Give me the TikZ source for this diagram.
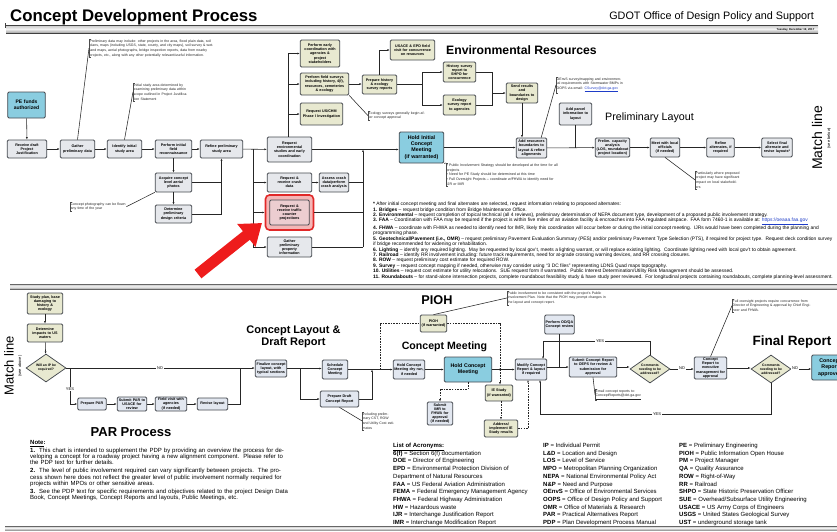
\documentclass[tikz,border=0pt]{standalone}
\usepackage{fontspec}
\setmainfont{Liberation Sans}
\usetikzlibrary{shapes.geometric,arrows.meta,calc}
\definecolor{cyanc}{RGB}{138,205,224}
\definecolor{beigec}{RGB}{232,233,208}
\definecolor{grayc}{RGB}{230,232,236}
\definecolor{bluec}{RGB}{226,231,240}
\definecolor{bordc}{RGB}{70,74,80}
\definecolor{redc}{RGB}{225,40,40}
\definecolor{pinkc}{RGB}{244,182,182}
\definecolor{pinkin}{RGB}{236,205,208}
\definecolor{arrowred}{RGB}{238,28,28}
\definecolor{linkc}{RGB}{30,60,200}
\tikzset{
  bx/.style={rectangle, rounded corners=1.3pt, draw=bordc, line width=0.75pt, align=center, inner sep=0.3pt, font=\fontsize{3.7}{4.2}\selectfont\bfseries, text=black},
  gb/.style={bx, fill=grayc},
  bb/.style={bx, fill=beigec},
  cb/.style={bx, fill=cyanc},
  lb/.style={bx, fill=bluec},
  dm/.style={diamond, aspect=1.45, draw=bordc, line width=0.75pt, fill=beigec, inner sep=0pt, align=center, font=\fontsize{3.4}{3.9}\selectfont\bfseries, minimum width=40pt, minimum height=28pt},
  nt/.style={anchor=north west, align=left, inner sep=0.5pt, font=\fontsize{3.5}{4.6}\selectfont, text=black!85},
  ar/.style={-{Latex[length=2.4pt,width=1.9pt]}, line width=0.55pt, draw=black!85},
  ln/.style={line width=0.55pt, draw=black!85},
  ds/.style={line width=0.55pt, draw=black!85, dash pattern=on 1.6pt off 1.1pt},
  dsa/.style={ds, -{Latex[length=2.4pt,width=1.9pt]}},
  lab/.style={font=\fontsize{4}{4}\selectfont, fill=white, inner sep=0.6pt},
  sect/.style={font=\fontsize{11}{12}\selectfont\bfseries, align=center},
}
\newcommand\notebrk[1]{\draw[line width=0.4pt, black!70] ([xshift=2pt]#1.north west) -- (#1.north west) -- (#1.south west) -- ([xshift=2pt]#1.south west);}
\begin{document}
\begin{tikzpicture}[x=1pt,y=-1pt]
\useasboundingbox (0,0) rectangle (837,531);
\fill[white] (0,0) rectangle (837,531);
\clip (0,0) rectangle (837,531);

% ---------- header ----------
\node[anchor=base west, font=\fontsize{16.8}{17}\selectfont\bfseries, inner sep=0] (title) at (10,21) {Concept Development Process};
\node[anchor=base east, font=\fontsize{10.8}{11}\selectfont, inner sep=0] (gdot) at (814,19) {GDOT Office of Design Policy and Support};
\shade[top color=gray!45, bottom color=gray!75, middle color=gray!10] (6,25) rectangle (818,33);
\draw[black!75, line width=0.6pt] (6,25) -- (818,25);
\draw[black!75, line width=0.9pt] (6,33) -- (818,33);
\draw[black!75, line width=0.5pt] (5,23) -- (5,28);
\node[anchor=east, font=\fontsize{2.8}{3}\selectfont\bfseries, inner sep=0.5pt] (date) at (815,29.5) {Tuesday, December 19, 2017};

% ---------- top flow ----------
\node[cb, font=\fontsize{5}{5.8}\selectfont\bfseries, text width=37pt, minimum height=26pt] (pe) at (26.5,105) {PE funds\\authorized};
\node[gb, text width=39pt, minimum height=18pt] (r1) at (27,149) {Receive draft\\Project\\Justification};
\node[gb, text width=34pt, minimum height=18pt] (r2) at (77.5,149) {Gather\\preliminary data};
\node[gb, text width=34pt, minimum height=18pt] (r3) at (124.5,149) {Identify initial\\study area};
\node[gb, text width=36pt, minimum height=18pt] (r4) at (173.5,149) {Perform initial\\field\\reconnaissance};
\node[gb, text width=42pt, minimum height=18pt] (r5) at (221.5,149) {Refine preliminary\\study area};
\node[gb, text width=36pt, minimum height=19pt] (acq) at (173.5,182.5) {Acquire concept\\level aerial\\photos};
\node[gb, text width=36pt, minimum height=18pt] (det) at (173.5,214) {Determine\\preliminary\\design criteria};
\node[gb, text width=44pt, minimum height=25pt] (req) at (289.5,149.5) {Request\\environmental\\studies and early\\coordination};
\node[gb, text width=44pt, minimum height=19pt] (crash) at (289.5,182.5) {Request \&\\receive crash\\data};
\node[gb, text width=29pt, minimum height=19pt] (acr) at (334,182.5) {Assess crash\\data/perform\\crash analysis};
\node[rectangle, rounded corners=4pt, draw=redc, line width=1.6pt, fill=pinkc, minimum width=48pt, minimum height=35pt] (trafo) at (289.5,212.5) {};
\node[gb, fill=pinkin, text width=39pt, minimum height=25pt] (traffic) at (289.5,212.5) {Request \&\\receive traffic\\counter\\projections};
\node[gb, text width=44pt, minimum height=20pt] (prop) at (289.5,247) {Gather\\preliminary\\property\\information};
\node[cb, font=\fontsize{5.3}{6.2}\selectfont\bfseries, text width=44pt, minimum height=31pt] (hold1) at (421.5,147.5) {Hold Initial\\Concept\\Meeting\\(if warranted)};
\node[gb, text width=30pt, minimum height=20pt] (addres) at (531.5,148) {Add resources\\boundaries to\\layout \& refine\\alignments};
\node[gb, text width=34pt, minimum height=19pt] (cap) at (612.5,147.5) {Prelim. capacity\\analysis\\(LOS, roundabout\\project location)};
\node[gb, text width=29pt, minimum height=19pt] (meet) at (665,147.5) {Meet with local\\officials\\(if needed)};
\node[gb, text width=27pt, minimum height=19pt] (refalt) at (720.5,147.5) {Refine\\alternates, if\\required};
\node[gb, text width=30pt, minimum height=19pt] (sel) at (777,147.5) {Select final\\alternate and\\revise layouts*};
\node[gb, text width=32pt, minimum height=22pt] (addpar) at (575.5,114) {Add parcel\\information to\\layout};

% environmental
\node[bb, text width=39pt, minimum height=27pt] (early) at (320,53.5) {Perform early\\coordination with\\agencies \&\\project\\stakeholders};
\node[bb, text width=48pt, minimum height=22pt] (field) at (324.5,84) {Perform field surveys\\including history, 4(f),\\resources, cemeteries\\\& ecology};
\node[bb, text width=42pt, minimum height=22pt] (usreq) at (321.5,114) {Request US/CHM\\Phase I Investigation};
\node[bb, text width=34pt, minimum height=19pt] (prep) at (379.5,84.5) {Prepare history\\\& ecology\\survey reports};
\node[bb, text width=44pt, minimum height=20pt] (usace) at (412.5,50) {USACE \& EPD field\\visit for concurrence\\on resources};
\node[bb, text width=32pt, minimum height=20pt] (shpo) at (459.5,72) {History survey\\report to\\SHPO for\\concurrence};
\node[bb, text width=32pt, minimum height=20pt] (eco) at (459.5,105) {Ecology\\survey report\\to agencies};
\node[bb, text width=31pt, minimum height=20pt] (send) at (522,93) {Send results\\and\\boundaries to\\design};

\node[anchor=west, font=\fontsize{12.2}{13}\selectfont\bfseries, inner sep=0] (envt) at (446,50) {Environmental Resources};
\node[anchor=west, font=\fontsize{10.7}{11}\selectfont, inner sep=0] (plt) at (605,118) {Preliminary Layout};
\node[rotate=90, font=\fontsize{14}{14}\selectfont, inner sep=0] (ml1) at (817,138) {Match line};
\node[rotate=90, font=\fontsize{4}{4}\selectfont, inner sep=0] (ml1s) at (829,138) {(see below)};

% connectors top
\draw[ar] (pe) -- (r1);
\draw[ar] (r1) -- (r2);
\draw[ar] (r2) -- (r3);
\draw[ar] (r3) -- (r4);
\draw[ar] (r4) -- (r5);
\draw[ar] (r4) -- (acq);
\draw[ar] (acq) -- (det);
\draw[ln] (acq.east) -- (acq.east -| r5.south);
\draw[ar] (det.east) -| (r5.south);
\draw[ar] (r5) -- (req);
\coordinate (j1) at (253,149);
\draw[ln] (j1) -- (j1 |- prop);
\draw[ar] (j1 |- crash) -- (crash);
\draw[ar] (j1 |- trafo) -- (trafo);
\draw[ar] (j1 |- prop) -- (prop);
\draw[ar] (crash) -- (acr);
\draw[ar] (req.east) -- (req.east -| hold1.west);
\coordinate (j2) at (363,149.5);
\draw[ln] (acr.east) -- (acr.east -| j2);
\draw[ln] (trafo.east) -- (trafo.east -| j2);
\draw[ln] (prop.east) -- (prop.east -| j2);
\draw[ar] (j2 |- prop) -- (j2);
\draw[ar] (hold1.east) -- (hold1.east -| addres.west);
\draw[ar] (addres) -- (cap);
\draw[ln] (addpar.south) -- (addpar.south |- cap);
\draw[ar] (cap) -- (meet);
\draw[ar] (meet) -- (refalt);
\draw[ar] (refalt) -- (sel);
\coordinate (j3) at (288,53.5);
\draw[ln] (j3 |- req.north) -- (j3);
\draw[ar] (j3) -- (early);
\draw[ar] (j3 |- field) -- (field);
\draw[ar] (j3 |- usreq) -- (usreq);
\draw[ar] (field.east) -- (field.east -| prep.west);
\draw[ar] (prep.north) |- (usace.west);
\coordinate (j4) at (422,84.5);
\draw[ln] (prep.east) -- (j4);
\draw[ln] (j4 |- shpo) -- (j4 |- eco);
\draw[ar] (j4 |- shpo) -- (shpo);
\draw[ar] (j4 |- eco) -- (eco);
\coordinate (j5) at (492,93);
\draw[ln] (shpo.east) -| (j5);
\draw[ln] (eco.east) -| (j5);
\draw[ar] (j5) -- (send);
\draw[ar] (send.south) -- (send.south |- addres.north);

% notes top
\node[nt, text width=124pt] (n1) at (89,39) {Preliminary data may include: other projects in the area, flood plain data, soil plans, maps (including USGS, state, county, and city maps), soil survey \& wetland maps, aerial photographs, bridge inspection reports, data from nearby projects, etc., along with any other potentially relevant/useful information.};
\notebrk{n1}
\draw[ln] (n1.west) -- (r2.north);
\node[nt, text width=58pt] (n2) at (133,83) {Initial study area determined by examining preliminary data within scope outlined in Project Justification Statement};
\notebrk{n2}
\draw[ln] (n2.west) -- (r3.north);
\node[nt, text width=55pt] (n3) at (70,202) {Concept photography can be flown any time of the year};
\notebrk{n3}
\draw[ln] (n3.east) -- (acq.south west);
\node[nt, text width=58pt] (n4) at (368,111) {Ecology surveys generally begin after concept approval};
\notebrk{n4}
\draw[ln] (field.south east) -- (n4.west);
\node[nt, text width=112pt, font=\fontsize{3.6}{4.8}\selectfont] (nh1) at (446,163) {\textbullet\ Public Involvement Strategy should be developed at the time for all projects\\\textbullet\ Need for PE Study should be determined at this time\\\textbullet\ Full Oversight Projects -- coordinate w/FHWA to identify need for IJR or IMR};
\notebrk{nh1}
\draw[ln] (hold1.south east) -- (nh1.north west);
\node[nt, text width=44pt] (n5) at (695,171) {Particularly where proposed project may have significant impact on local stakeholders};
\notebrk{n5}
\draw[ln] (meet.south) -- (n5.west);
\node[nt, text width=70pt] (nsv) at (556,77) {OEnvS survey/mapping and environmental requirements with Stormwater BMPs in OOPS via email: {\color{linkc}\underline{CSurvey@dot.ga.gov}}};
\notebrk{nsv}
\draw[ln] ([xshift=-6pt]addres.north east) -- (nsv.west);

% footnotes
\node[anchor=north west, align=left, inner sep=0, font=\fontsize{4.9}{5.4}\selectfont] (foot) at (373,202) {%
\textbf{*} After initial concept meeting and final alternates are selected, request information relating to proposed alternates:\\
\textbf{1. Bridges} -- request bridge condition from Bridge Maintenance Office.\\
\textbf{2. Environmental} -- request completion of topical technical (all 4 reviews), preliminary determination of NEPA document type, development of a proposed public involvement strategy.\\
\textbf{3. FAA} -- Coordination with FAA may be required if the project is within five miles of an aviation facility \& encroaches into FAA regulated airspace.\ \ FAA form 7460-1 is available at: {\color{linkc}\underline{https://oeaaa.faa.gov}}\\
\textbf{4. FHWA} -- coordinate with FHWA as needed to identify need for IMR, likely this coordination will occur before or during the initial concept meeting.\ \ IJRs would have been completed during the planning and\\
programming phase.\\
\textbf{5. Geotechnical/Pavement (i.e., OMR)} -- request preliminary Pavement Evaluation Summary (PES) and/or preliminary Pavement Type Selection (PTS), if required for project type.\ \ Request deck condition survey\\
if bridge recommended for widening or rehabilitation.\\
\textbf{6. Lighting} -- identify any required lighting.\ \ May be requested by local gov't, meets a lighting warrant, or will replace existing lighting.\ \ Coordinate lighting need with local gov't to obtain agreement.\\
\textbf{7. Railroad} -- identify RR involvement including: future track requirements, need for at-grade crossing warning devices, and RR crossing closures.\\
\textbf{8. ROW} -- request preliminary cost estimate for required ROW.\\
\textbf{9. Survey} -- request concept mapping if needed, otherwise may consider using ``3 DC files'' representing LDNS Quad maps topography.\\
\textbf{10. Utilities} -- request cost estimate for utility relocations.\ \ SUE request form if warranted.\ \ Public Interest Determination/Utility Risk Management should be assessed.\\
\textbf{11. Roundabouts} -- for stand-alone intersection projects, complete roundabout feasibility study \& have study peer reviewed.\ \ For longitudinal projects containing roundabouts, complete planning-level assessment.};

% red arrow
\draw[arrowred, line width=11pt, -{Triangle[length=20pt,width=28pt]}] (198,274) -- (262,223);

% mid bar
\shade[top color=gray!45, bottom color=gray!75, middle color=gray!10] (10,284) rectangle (837,289);
\draw[black!60, line width=0.5pt] (10,284) -- (837,284);
\draw[black!60, line width=0.7pt] (10,289) -- (837,289);

% ---------- bottom flow ----------
\node[rotate=90, font=\fontsize{13}{13}\selectfont, inner sep=0] (ml2) at (9,366) {Match line};
\node[rotate=90, font=\fontsize{4}{4}\selectfont, inner sep=0] (ml2s) at (20,366) {(see above)};

\node[bb, text width=35pt, minimum height=21pt] (study) at (45,303.5) {Study plan, base\\damaging to\\history \&\\ecology};
\node[bb, text width=35pt, minimum height=18pt] (detus) at (45,333) {Determine\\impacts to US\\waters};
\node[dm] (ip) at (46,368) {Will an IP be\\required?};
\node[lb, text width=28pt, minimum height=12pt] (prepar) at (92,404) {Prepare PAR};
\node[lb, text width=29pt, minimum height=14pt] (subpar) at (132,404) {Submit PAR to\\USACE for\\review};
\node[lb, text width=31pt, minimum height=14pt] (fieldv) at (171,404) {Field visit with\\agencies\\(if needed)};
\node[lb, text width=30pt, minimum height=12pt] (revise) at (212.5,404) {Revise layout};
\node[lb, text width=31pt, minimum height=17pt] (fin) at (271,368.5) {Finalize concept\\layout, with\\typical sections};
\node[lb, text width=25pt, minimum height=19pt] (sched) at (335,369.5) {Schedule\\Concept\\Meeting};
\node[lb, text width=38pt, minimum height=16pt] (draft) at (339.5,399) {Prepare Draft\\Concept Report};
\node[lb, text width=31pt, minimum height=19pt] (dry) at (409,369.5) {Hold Concept\\Meeting dry run,\\if needed};
\node[cb, font=\fontsize{5.3}{6.2}\selectfont\bfseries, text width=47pt, minimum height=25pt] (hold2) at (468,369.5) {Hold Concept\\Meeting};
\node[bb, text width=26pt, minimum height=17pt] (pioh) at (433.5,323.5) {PIOH\\(if warranted)};
\node[lb, text width=31pt, minimum height=21pt] (mod) at (531,369.5) {Modify Concept\\Report \& layout\\if required};
\node[lb, text width=29pt, minimum height=19pt] (odqa) at (559.5,324.5) {Perform OD/QA\\Concept review};
\node[lb, text width=47pt, minimum height=20pt] (sub) at (593,367) {Submit Concept Report\\to OEPS for review \&\\submission for\\approval};
\node[dm] (d1) at (650,369) {Comments\\needing to be\\addressed?};
\node[lb, text width=32pt, minimum height=22pt] (exec) at (710.5,368) {Concept Report to\\executive\\management for\\approval};
\node[dm] (d2) at (771,369) {Comments\\needing to be\\addressed?};
\node[cb, font=\fontsize{5.3}{6.2}\selectfont\bfseries, text width=36pt, minimum height=25pt] (appr) at (830,367.5) {Concept\\Report\\approved};
\node[bb, text width=27pt, minimum height=16pt] (ie) at (499,393) {IE Study\\(if warranted)};
\node[bb, text width=33pt, minimum height=17pt] (addr) at (501,428.5) {Address/\\implement IE\\Study results};
\node[lb, text width=25pt, minimum height=23pt] (imr) at (440,413.5) {Submit IMR to\\FHWA for\\approval\\(if needed)};

\node[sect] (tcl) at (293.5,337) {Concept Layout \&\\Draft Report};
\node[font=\fontsize{12.7}{13}\selectfont\bfseries] (tpioh) at (437,300) {PIOH};
\node[font=\fontsize{10.6}{11}\selectfont\bfseries] (tcm) at (444.5,347) {Concept Meeting};
\node[font=\fontsize{13.5}{14}\selectfont\bfseries] (tfr) at (792,342) {Final Report};
\node[font=\fontsize{13}{14}\selectfont\bfseries] (tpar) at (131,432) {PAR Process};

% connectors bottom
\draw[ar] (study) -- (detus);
\draw[ar] (detus) -- (ip);
\draw[ar] (ip.east) -- (ip.east -| fin.west);
\node[lab] at (160,368) {NO};
\coordinate (yj) at (70,368);
\draw[ar] (yj) |- (prepar.west);
\node[lab] at (70,389) {YES};
\draw[ar] (prepar) -- (subpar);
\draw[ar] (subpar) -- (fieldv);
\draw[ar] (fieldv) -- (revise);
\draw[ln] (revise.east) -| (240,368);
\draw[ar] (fin.east) -- (fin.east -| sched.west);
\coordinate (j6) at (300,368.5);
\draw[ar] (j6) |- (draft.west);
\draw[ar] (sched) -- (dry);
\draw[ar] (dry) -- (hold2);
\draw[ar] (draft.east) -| (372,369.5);
\coordinate (j7) at (500,369.5);
\draw[ar] (hold2.east) -- (mod.west);
\fill[black!85] (j7) circle (1.1pt);
\draw[ds] (380,369.5) |- (pioh.west);
\draw[ds] (pioh.east) -| (j7);
\draw[dsa] (j7) -- (j7 |- ie.north);
\draw[dsa] (ie.south -| addr.north) -- (addr.north);
\draw[dsa] (hold2.south) -- ++(0,7) -| (imr.north);
\draw[dsa] (addr.east) -| (528,380);
\coordinate (j8) at (559.5,367);
\draw[ar] (mod.east |- j8) -- (sub.west);
\draw[ln] (odqa.south) -- (j8);
\draw[ar] (sub.east) -- (sub.east -| d1.west);
\draw[ar] (d1.east) -- (d1.east -| exec.west);
\node[lab] at (682,368.5) {NO};
\draw[ar] (d1.north) |- (543,341) -- (543,359);
\node[lab] at (600,341) {YES};
\draw[ar] (exec.east) -- (exec.east -| d2.west);
\draw[ar] (d2.east) -- (d2.east -| appr.west);
\node[lab] at (795,368.5) {NO};
\draw[ar] (d2.south) |- (540,414) -- (540,380);
\node[lab] at (657,414) {YES};

% notes bottom
\node[nt, text width=100pt] (npioh) at (507,291) {Public involvement to be consistent with the project's Public Involvement Plan. Note that the PIOH may prompt changes in the layout and concept report.};
\notebrk{npioh}
\draw[ln] (pioh.north) -- (npioh.west);
\node[nt, text width=78pt] (nfo) at (732,299) {Full oversight projects require concurrence from Director of Engineering \& approval by Chief Engineer and FHWA.};
\notebrk{nfo}
\draw[ln] (exec.north) -- (nfo.west);
\node[nt, text width=64pt] (nem) at (595,389) {Email concept reports to:\\\underline{ConceptReports@dot.ga.gov}};
\notebrk{nem}
\draw[ln] (sub.south) -- (nem.west);
\node[nt, text width=32pt] (ninc) at (362,412) {Including preliminary CST, ROW and Utility Cost estimates};
\notebrk{ninc}
\draw[ln] (draft.south) -- (ninc.west);

\node[anchor=north west, align=left, inner sep=0, text width=258pt, font=\fontsize{6}{6.2}\selectfont] (bnotes) at (30,440) {%
\textbf{\underline{Note}:}\par\vspace{0.6pt}
\textbf{1.}\ \ This chart is intended to supplement the PDP by providing an overview the process for developing a concept for a roadway project having a new alignment component.\ \ Please refer to the PDP text for further details.\par\vspace{2pt}
\textbf{2.}\ \ The level of public involvement required can vary significantly between projects.\ \ The process shown here does not reflect the greater level of public involvement normally required for projects within MPOs or other sensitive areas.\par\vspace{2pt}
\textbf{3.}\ \ See the PDP text for specific requirements and objectives related to the project Design Data Book, Concept Meetings, Concept Reports and layouts, Public Meetings, etc.};

\node[anchor=north west, align=left, inner sep=0, font=\fontsize{6}{7.7}\selectfont] (ac1) at (393,443) {%
\textbf{\underline{List of Acronyms:}}\\
\textbf{6(f)} = Section 6(f) documentation\\
\textbf{DOE} = Director of Engineering\\
\textbf{EPD} = Environmental Protection Division of\\
Department of Natural Resources\\
\textbf{FAA} = US Federal Aviation Administration\\
\textbf{FEMA} = Federal Emergency Management Agency\\
\textbf{FHWA} = Federal Highway Administration\\
\textbf{HW} = Hazardous waste\\
\textbf{IJR} = Interchange Justification Report\\
\textbf{IMR} = Interchange Modification Report};
\node[anchor=north west, align=left, inner sep=0, font=\fontsize{6}{7.7}\selectfont] (ac2) at (543,443) {%
\textbf{IP} = Individual Permit\\
\textbf{L\&D} = Location and Design\\
\textbf{LOS} = Level of Service\\
\textbf{MPO} = Metropolitan Planning Organization\\
\textbf{NEPA} = National Environmental Policy Act\\
\textbf{N\&P} = Need and Purpose\\
\textbf{OEnvS} = Office of Environmental Services\\
\textbf{OOPS} = Office of Design Policy and Support\\
\textbf{OMR} = Office of Materials \& Research\\
\textbf{PAR} = Practical Alternatives Report\\
\textbf{PDP} = Plan Development Process Manual};
\node[anchor=north west, align=left, inner sep=0, font=\fontsize{6}{7.7}\selectfont] (ac3) at (679,443) {%
\textbf{PE} = Preliminary Engineering\\
\textbf{PIOH} = Public Information Open House\\
\textbf{PM} = Project Manager\\
\textbf{QA} = Quality Assurance\\
\textbf{ROW} = Right-of-Way\\
\textbf{RR} = Railroad\\
\textbf{SHPO} = State Historic Preservation Officer\\
\textbf{SUE} = Overhead/Subsurface Utility Engineering\\
\textbf{USACE} = US Army Corps of Engineers\\
\textbf{USGS} = United States Geological Survey\\
\textbf{UST} = underground storage tank};

% bottom bar
\shade[top color=gray!45, bottom color=gray!75, middle color=gray!10] (5,526) rectangle (837,530);
\draw[black!60, line width=0.5pt] (5,526) -- (837,526);
\end{tikzpicture}
\end{document}
